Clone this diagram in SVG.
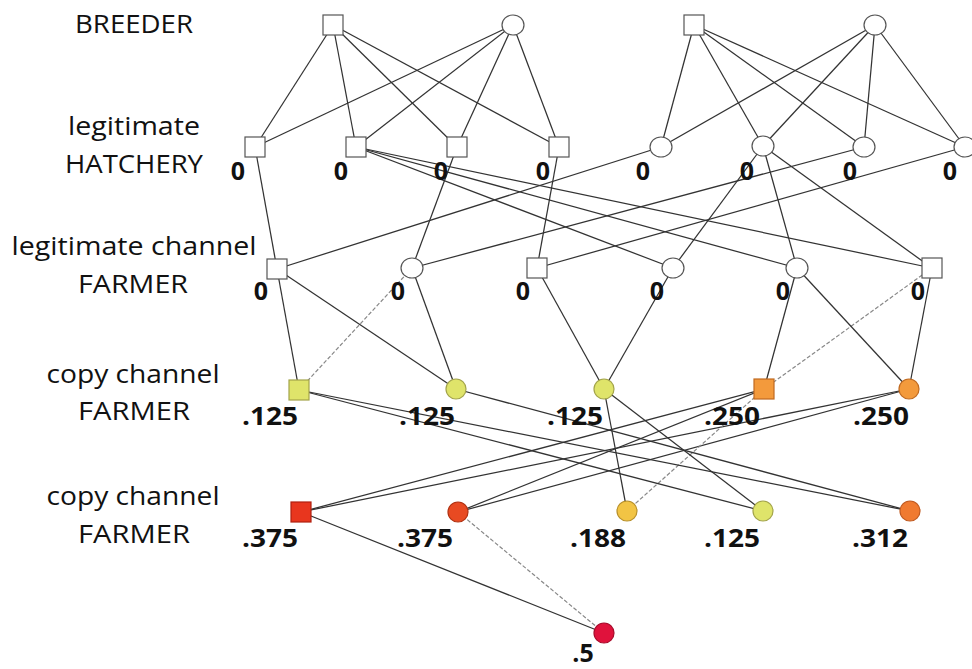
<svg xmlns="http://www.w3.org/2000/svg" width="972" height="669" viewBox="0 0 972 669">
<defs>
<style>
.lbl{font-family:"Open Sans","Liberation Sans",sans-serif;font-size:25px;fill:#111;text-anchor:middle}
.num{font-family:"Open Sans","Liberation Sans",sans-serif;font-size:25px;font-weight:bold;fill:#111;text-anchor:middle}
.e{stroke:#333;stroke-width:1.25;fill:none}
.f{stroke:#888;stroke-width:1.2;fill:none;stroke-dasharray:4 2}
.w{fill:#fff;stroke:#555;stroke-width:1.2}
.yg{fill:#dfe46a;stroke:#a3a44a;stroke-width:1.2}
.yo{fill:#f2c444;stroke:#b8902a;stroke-width:1.2}
.or{fill:#f39a3c;stroke:#c06a20;stroke-width:1.2}
.or2{fill:#f07a30;stroke:#c05a20;stroke-width:1.2}
.rd{fill:#e8361e;stroke:#b02010;stroke-width:1.2}
.rd2{fill:#e84a22;stroke:#b03010;stroke-width:1.2}
.cr{fill:#e0123c;stroke:#a80a2a;stroke-width:1.2}
</style>
</defs>
<rect width="972" height="669" fill="#fff"/>
<g id="row-labels">
<text class="lbl" x="134" y="33" textLength="118" lengthAdjust="spacingAndGlyphs">BREEDER</text>
<text class="lbl" x="134" y="135" textLength="132" lengthAdjust="spacingAndGlyphs">legitimate</text>
<text class="lbl" x="134" y="173" textLength="138" lengthAdjust="spacingAndGlyphs">HATCHERY</text>
<text class="lbl" x="134" y="255" textLength="245" lengthAdjust="spacingAndGlyphs">legitimate channel</text>
<text class="lbl" x="133" y="293" textLength="110" lengthAdjust="spacingAndGlyphs">FARMER</text>
<text class="lbl" x="133" y="383" textLength="173" lengthAdjust="spacingAndGlyphs">copy channel</text>
<text class="lbl" x="134" y="420" textLength="112" lengthAdjust="spacingAndGlyphs">FARMER</text>
<text class="lbl" x="133" y="505" textLength="173" lengthAdjust="spacingAndGlyphs">copy channel</text>
<text class="lbl" x="134" y="543" textLength="112" lengthAdjust="spacingAndGlyphs">FARMER</text>
</g>
<g id="connectors">
<line class="e" x1="333" y1="25" x2="255" y2="147"/>
<line class="e" x1="333" y1="25" x2="356" y2="147"/>
<line class="e" x1="333" y1="25" x2="457" y2="147"/>
<line class="e" x1="333" y1="25" x2="559" y2="147"/>
<line class="e" x1="513" y1="25" x2="255" y2="147"/>
<line class="e" x1="513" y1="25" x2="356" y2="147"/>
<line class="e" x1="513" y1="25" x2="457" y2="147"/>
<line class="e" x1="513" y1="25" x2="559" y2="147"/>
<line class="e" x1="694" y1="25" x2="661" y2="147"/>
<line class="e" x1="694" y1="25" x2="763" y2="146"/>
<line class="e" x1="694" y1="25" x2="864" y2="147"/>
<line class="e" x1="694" y1="25" x2="965" y2="147"/>
<line class="e" x1="875" y1="25" x2="661" y2="147"/>
<line class="e" x1="875" y1="25" x2="763" y2="146"/>
<line class="e" x1="875" y1="25" x2="864" y2="147"/>
<line class="e" x1="875" y1="25" x2="965" y2="147"/>
<line class="e" x1="255" y1="147" x2="277" y2="269"/>
<line class="e" x1="661" y1="147" x2="277" y2="269"/>
<line class="e" x1="457" y1="147" x2="412" y2="268"/>
<line class="e" x1="864" y1="147" x2="412" y2="268"/>
<line class="e" x1="559" y1="147" x2="537" y2="268"/>
<line class="e" x1="965" y1="147" x2="537" y2="268"/>
<line class="e" x1="356" y1="147" x2="673" y2="268"/>
<line class="e" x1="763" y1="146" x2="673" y2="268"/>
<line class="e" x1="356" y1="147" x2="797" y2="268"/>
<line class="e" x1="763" y1="146" x2="797" y2="268"/>
<line class="e" x1="356" y1="147" x2="932" y2="268"/>
<line class="e" x1="763" y1="146" x2="932" y2="268"/>
<line class="e" x1="277" y1="269" x2="299" y2="390"/>
<line class="f" x1="412" y1="268" x2="299" y2="390"/>
<line class="e" x1="277" y1="269" x2="456" y2="389"/>
<line class="e" x1="412" y1="268" x2="456" y2="389"/>
<line class="e" x1="537" y1="268" x2="604" y2="389"/>
<line class="e" x1="673" y1="268" x2="604" y2="389"/>
<line class="e" x1="797" y1="268" x2="764" y2="389"/>
<line class="f" x1="932" y1="268" x2="764" y2="389"/>
<line class="e" x1="797" y1="268" x2="909" y2="389"/>
<line class="e" x1="932" y1="268" x2="909" y2="389"/>
<line class="e" x1="764" y1="389" x2="301" y2="512"/>
<line class="e" x1="909" y1="389" x2="301" y2="512"/>
<line class="e" x1="764" y1="389" x2="458" y2="512"/>
<line class="e" x1="909" y1="389" x2="458" y2="512"/>
<line class="e" x1="604" y1="389" x2="627" y2="511"/>
<line class="f" x1="764" y1="389" x2="627" y2="511"/>
<line class="e" x1="299" y1="390" x2="763" y2="511"/>
<line class="e" x1="604" y1="389" x2="763" y2="511"/>
<line class="e" x1="299" y1="390" x2="910" y2="511"/>
<line class="e" x1="456" y1="389" x2="910" y2="511"/>
<line class="e" x1="301" y1="512" x2="604" y2="633"/>
<line class="f" x1="458" y1="512" x2="604" y2="633"/>
</g>
<g id="B1"><rect class="w" x="323" y="15" width="20" height="20"/></g>
<g id="B2"><ellipse class="w" cx="513" cy="25" rx="11" ry="10"/></g>
<g id="B3"><rect class="w" x="684" y="15" width="20" height="20"/></g>
<g id="B4"><ellipse class="w" cx="875" cy="25" rx="11" ry="10"/></g>
<g id="H1"><rect class="w" x="245" y="137" width="20" height="20"/><text class="num" x="238" y="180">0</text></g>
<g id="H2"><rect class="w" x="346" y="137" width="20" height="20"/><text class="num" x="341" y="180">0</text></g>
<g id="H3"><rect class="w" x="447" y="137" width="20" height="20"/><text class="num" x="441" y="180">0</text></g>
<g id="H4"><rect class="w" x="549" y="137" width="20" height="20"/><text class="num" x="543" y="180">0</text></g>
<g id="H5"><ellipse class="w" cx="661" cy="147" rx="11" ry="10"/><text class="num" x="643" y="180">0</text></g>
<g id="H6"><ellipse class="w" cx="763" cy="146" rx="11" ry="10"/><text class="num" x="747" y="180">0</text></g>
<g id="H7"><ellipse class="w" cx="864" cy="147" rx="11" ry="10"/><text class="num" x="850" y="180">0</text></g>
<g id="H8"><ellipse class="w" cx="965" cy="147" rx="11" ry="10"/><text class="num" x="950" y="180">0</text></g>
<g id="F1"><rect class="w" x="267" y="259" width="20" height="20"/><text class="num" x="261" y="300">0</text></g>
<g id="F2"><ellipse class="w" cx="412" cy="268" rx="11" ry="10"/><text class="num" x="398" y="300">0</text></g>
<g id="F3"><rect class="w" x="527" y="258" width="20" height="20"/><text class="num" x="523" y="300">0</text></g>
<g id="F4"><ellipse class="w" cx="673" cy="268" rx="11" ry="10"/><text class="num" x="657" y="300">0</text></g>
<g id="F5"><ellipse class="w" cx="797" cy="268" rx="11" ry="10"/><text class="num" x="783" y="300">0</text></g>
<g id="F6"><rect class="w" x="922" y="258" width="20" height="20"/><text class="num" x="918" y="300">0</text></g>
<g id="C1"><rect class="yg" x="289" y="380" width="20" height="20"/><text class="num" x="270" y="425" textLength="56" lengthAdjust="spacingAndGlyphs">.125</text></g>
<g id="C2"><circle class="yg" cx="456" cy="389" r="10"/><text class="num" x="427" y="425" textLength="56" lengthAdjust="spacingAndGlyphs">.125</text></g>
<g id="C3"><circle class="yg" cx="604" cy="389" r="10"/><text class="num" x="575" y="425" textLength="56" lengthAdjust="spacingAndGlyphs">.125</text></g>
<g id="C4"><rect class="or" x="754" y="379" width="20" height="20"/><text class="num" x="732" y="425" textLength="56" lengthAdjust="spacingAndGlyphs">.250</text></g>
<g id="C5"><circle class="or" cx="909" cy="389" r="10"/><text class="num" x="881" y="425" textLength="56" lengthAdjust="spacingAndGlyphs">.250</text></g>
<g id="D1"><rect class="rd" x="291" y="502" width="20" height="20"/><text class="num" x="270" y="547" textLength="56" lengthAdjust="spacingAndGlyphs">.375</text></g>
<g id="D2"><circle class="rd2" cx="458" cy="512" r="10"/><text class="num" x="425" y="547" textLength="56" lengthAdjust="spacingAndGlyphs">.375</text></g>
<g id="D3"><circle class="yo" cx="627" cy="511" r="10"/><text class="num" x="598" y="547" textLength="56" lengthAdjust="spacingAndGlyphs">.188</text></g>
<g id="D4"><circle class="yg" cx="763" cy="511" r="10"/><text class="num" x="732" y="547" textLength="56" lengthAdjust="spacingAndGlyphs">.125</text></g>
<g id="D5"><circle class="or2" cx="910" cy="511" r="10"/><text class="num" x="880" y="547" textLength="56" lengthAdjust="spacingAndGlyphs">.312</text></g>
<g id="E"><circle class="cr" cx="604" cy="633" r="10"/><text class="num" x="583" y="662">.5</text></g>
</svg>
